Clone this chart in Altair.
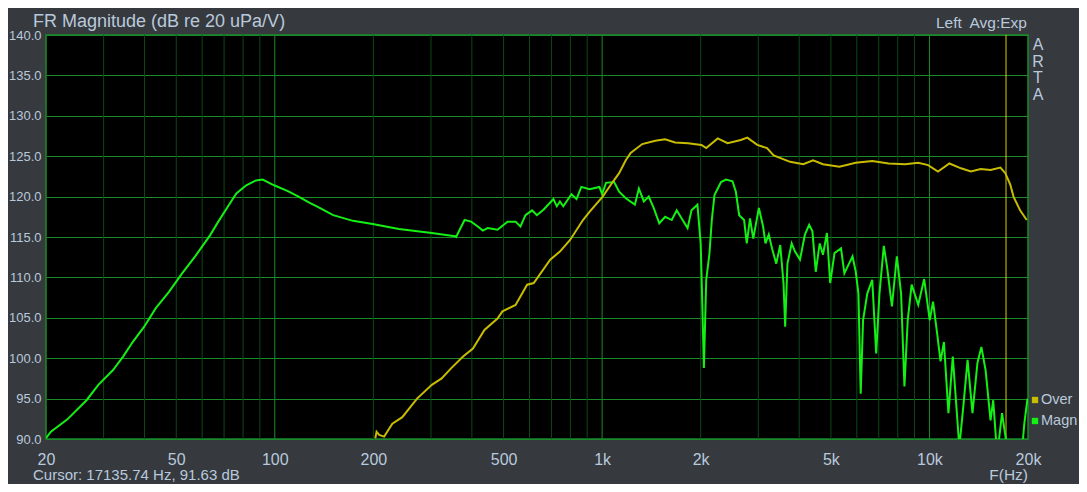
import altair as alt
import pandas as pd

# ---- data ----
magn_freq = [20, 20.7, 23.2, 26.6, 28.9, 32.0, 34.4, 36.8, 39.9, 43.3,
             47.5, 52.1, 57.1, 63.4, 67.2, 72.0, 76.3, 81.8, 87.6, 91.8,
             99.5, 109.2, 117, 128.3, 134.4, 150.8, 173.3, 199, 239.4, 301.8,
             355, 358, 380, 398, 417, 432, 447, 479, 514, 544,
             563, 583, 611, 632, 663, 710, 727, 743, 761, 806,
             835, 864, 915, 981, 1000, 1028, 1088, 1127, 1181, 1259,
             1295, 1341, 1388, 1437, 1495, 1558, 1632, 1690, 1750, 1824,
             1875, 1955, 2000, 2018, 2046, 2080, 2128, 2163, 2204, 2308,
             2390, 2502, 2562, 2622, 2715, 2766, 2830, 2895, 3012, 3103,
             3155, 3229, 3303, 3404, 3500, 3582, 3624, 3682, 3794, 3885,
             4022, 4164, 4290, 4390, 4494, 4620, 4728, 4861, 4974, 5127,
             5368, 5496, 5820, 5954, 6067, 6165, 6268, 6457, 6686, 6875,
             7034, 7253, 7421, 7679, 7949, 8190, 8386, 8581, 8822, 9241,
             9634, 10018, 10256, 10568, 10812, 11071, 11428, 11784, 12336, 12716,
             13075, 13534, 14012, 14406, 14844, 15367, 15658, 16098, 16666, 17254,
             17864, 18920, 19500, 19930]
magn_db = [90.1, 90.9, 92.4, 94.8, 96.7, 98.5, 100.2, 102.0, 103.9, 106.2,
           108.2, 110.5, 112.6, 115.2, 116.9, 118.8, 120.4, 121.4, 122.0, 122.1,
           121.4, 120.7, 120.1, 119.2, 118.8, 117.7, 117.0, 116.6, 116.0, 115.5,
           115.1, 115.0, 117.1, 116.9, 116.3, 115.8, 116.1, 115.9, 116.9, 116.9,
           116.3, 117.7, 118.3, 117.7, 118.4, 119.7, 118.8, 119.4, 118.8, 120.3,
           119.7, 121.2, 120.9, 121.2, 120.3, 121.7, 121.8, 120.6, 119.8, 119.0,
           121.0, 119.4, 120.0, 118.6, 116.7, 117.5, 117.1, 118.3, 117.3, 116.1,
           118.3, 119.0, 114.2, 108.4, 98.8, 109.7, 113.0, 117.1, 120.2, 121.8,
           122.1, 121.9, 120.6, 117.7, 117.1, 114.2, 117.3, 114.8, 118.6, 116.3,
           114.2, 115.3, 113.6, 111.7, 114.0, 109.3, 103.9, 111.7, 114.2, 113.2,
           112.2, 115.3, 116.5, 115.7, 110.7, 114.2, 112.8, 115.5, 109.3, 113.0,
           113.6, 110.5, 112.6, 110.7, 108.0, 95.6, 104.7, 108.0, 109.7, 100.6,
           108.0, 113.9, 111.3, 106.4, 112.6, 108.0, 96.5, 104.7, 109.1, 106.6,
           109.8, 104.7, 107.0, 102.9, 99.6, 102.0, 93.2, 100.2, 89.0, 94.4,
           99.8, 93.2, 99.4, 101.4, 98.5, 92.3, 94.8, 88.0, 93.2, 89.0,
           87.5, 86.0, 92.0, 95.0]

over_freq = [202.8, 204.6, 208.4, 215.8, 228.6, 245.2, 272, 301.8, 323.4, 346.6,
             376, 403, 437, 479, 496, 544, 590, 618, 694, 743,
             797, 874, 915, 1004, 1077, 1127, 1181, 1222, 1326, 1453,
             1558, 1670, 1831, 2010, 2080, 2255, 2417, 2652, 2777, 2977,
             3190, 3342, 3752, 4116, 4410, 4728, 5308, 5954, 6686, 7504,
             8422, 9241, 9906, 10618, 11508, 12484, 13378, 14338, 15367, 16472,
             17052, 17654, 18062, 18920, 19820]
over_db = [90.1, 90.9, 90.5, 90.3, 91.9, 92.7, 95.0, 96.7, 97.5, 98.8,
           100.2, 101.2, 103.5, 104.9, 105.8, 106.6, 109.1, 109.3, 112.2, 113.2,
           114.6, 117.1, 118.1, 120.0, 121.8, 122.9, 124.5, 125.4, 126.5, 126.9,
           127.1, 126.7, 126.6, 126.4, 126.0, 127.2, 126.6, 127.0, 127.3, 126.4,
           126.0, 125.1, 124.3, 124.0, 124.5, 124.0, 123.7, 124.2, 124.4, 124.1,
           124.0, 124.2, 123.9, 123.1, 124.1, 123.5, 123.1, 123.4, 123.3, 123.6,
           122.9, 121.5, 120.0, 118.3, 117.1]

x_tick_values = [20, 50, 100, 200, 500, 1000, 2000, 5000, 10000, 20000]
y_tick_values = [90, 95, 100, 105, 110, 115, 120, 125, 130, 135, 140]
minor_grid = [30, 40, 50, 60, 70, 80, 90,
              200, 300, 400, 500, 600, 700, 800, 900,
              2000, 3000, 4000, 5000, 6000, 7000, 8000, 9000]
major_grid = [100, 1000, 10000]
cursor_freq = [17135.74]
series_names = ["Over", "Magn"]
series_colors = ["#c8bc00", "#14f014"]

# ---- styling ----
BG = "#36393e"
TXT = "#b9c9dc"
GRID = "#1b8a2a"
MINOR = "#0b4a15"
FONT = "Liberation Sans"

df = pd.concat([
    pd.DataFrame({"f": magn_freq, "db": magn_db, "s": "Magn"}),
    pd.DataFrame({"f": over_freq, "db": over_db, "s": "Over"}),
])

xscale = alt.Scale(type="log", domain=[20, 20000], nice=False)
yscale = alt.Scale(domain=[90, 140], nice=False, zero=False)

xaxis = alt.Axis(values=x_tick_values, grid=False, ticks=False, domain=False,
                 title=None, labelColor=TXT, labelFont=FONT, labelFontSize=16,
                 labelPadding=12,
                 labelExpr="datum.value >= 1000 ? (datum.value/1000) + 'k' : datum.value",
                 labelOverlap=False, labelFlush=False)
yaxis = alt.Axis(values=y_tick_values, format=".1f", grid=True, gridColor=GRID,
                 gridOpacity=1, ticks=False, domain=False, title=None,
                 labelColor=TXT, labelFont=FONT, labelFontSize=13,
                 labelPadding=5, labelOverlap=False, labelFlush=False)

minor = alt.Chart(pd.DataFrame({"f": minor_grid})).mark_rule(
    color=MINOR, strokeWidth=1).encode(x=alt.X("f:Q", scale=xscale, axis=xaxis))
major = alt.Chart(pd.DataFrame({"f": major_grid})).mark_rule(
    color=GRID, strokeWidth=1).encode(x=alt.X("f:Q", scale=xscale, axis=xaxis))
cursor = alt.Chart(pd.DataFrame({"f": cursor_freq})).mark_rule(
    color="#d8d000", strokeWidth=1).encode(x=alt.X("f:Q", scale=xscale, axis=xaxis))

lines = alt.Chart(df).mark_line(clip=True, strokeWidth=2, interpolate="linear").encode(
    x=alt.X("f:Q", scale=xscale, axis=xaxis),
    y=alt.Y("db:Q", scale=yscale, axis=yaxis),
    color=alt.Color("s:N", scale=alt.Scale(domain=series_names, range=series_colors),
                    legend=None),
    detail="s:N",
)


def txt(text, x, y, size=15, align="left", baseline="alphabetic", **kw):
    return alt.Chart().mark_text(text=text, align=align, baseline=baseline,
                                 font=FONT, fontSize=size, color=TXT, **kw).encode(
        x=alt.value(x), y=alt.value(y))


title = txt("FR Magnitude (dB re 20 uPa/V)", -13, -8, size=18)
topright = txt("Left\u00a0 Avg:Exp", 981, -7, size=15.5, align="right")
arta = txt("A\nR\nT\nA", 992, 15, size=16, align="center", lineBreak="\n",
           lineHeight=16.5)
cursor_txt = txt("Cursor: 17135.74 Hz, 91.63 dB", -13, 445, size=15)
fhz = txt("F(Hz)", 982, 445, size=15.5, align="right")

leg_over_sq = alt.Chart().mark_square(size=40, color=series_colors[0], opacity=1,
                                      filled=True).encode(
    x=alt.value(989), y=alt.value(365))
leg_magn_sq = alt.Chart().mark_square(size=40, color=series_colors[1], opacity=1,
                                      filled=True).encode(
    x=alt.value(989), y=alt.value(386))
leg_over = txt(series_names[0], 995, 365, size=14.5, baseline="middle")
leg_magn = txt(series_names[1], 995, 386, size=14.5, baseline="middle")

chart = alt.layer(
    minor, major, cursor, lines, title, topright, arta, cursor_txt, fhz,
    leg_over_sq, leg_magn_sq, leg_over, leg_magn,
).properties(
    width=982, height=404,
    autosize=alt.AutoSizeParams(type="none"),
    padding={"left": 38, "top": 27, "right": 51, "bottom": 45},
    background=BG,
).configure_view(
    fill="#000000", stroke=GRID, strokeWidth=1.5,
)

chart.save("out.html", embed_options={"renderer": "svg", "actions": False})
